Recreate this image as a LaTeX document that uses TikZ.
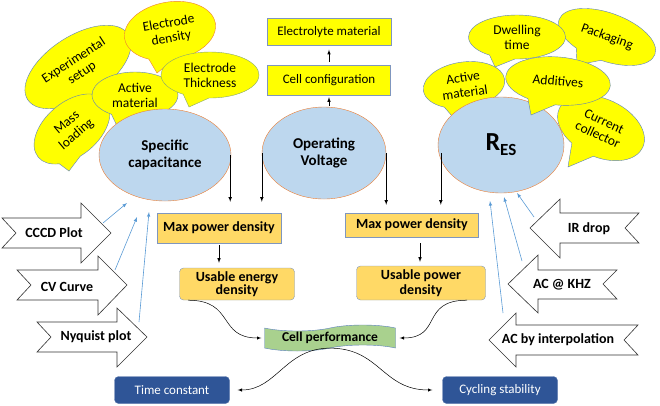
\documentclass[tikz,border=0pt]{standalone}
\usepackage{fontspec}
\setmainfont{Carlito}
\usetikzlibrary{shapes.geometric,shapes.callouts,shapes.symbols}

\definecolor{capfill}{HTML}{BDD7EE}
\definecolor{capline}{HTML}{ED7D31}
\definecolor{bubblefill}{HTML}{FFFF00}
\definecolor{bubbleline}{HTML}{5B7FBF}
\definecolor{boxline}{HTML}{7F96BE}
\definecolor{orangefill}{HTML}{FFD966}
\definecolor{perffill}{HTML}{A9D18E}
\definecolor{darkbox}{HTML}{2F5597}
\definecolor{thinblue}{HTML}{5B9BD5}

\begin{document}
\begin{tikzpicture}[x=1pt, y=-1pt,
    param/.style={ellipse, draw=capline, fill=capfill, inner sep=0pt, align=center, font=\fontsize{15}{17}\selectfont\bfseries},
    bubble/.style={ellipse callout, draw=bubbleline, fill=bubblefill, inner sep=0pt, callout pointer arc=32, align=center, font=\fontsize{13.5}{15}\selectfont},
    topbox/.style={rectangle, draw=boxline, fill=bubblefill, inner sep=0pt, font=\fontsize{13}{15}\selectfont},
    powerbox/.style={rectangle, draw=boxline, fill=orangefill, inner sep=0pt, align=center, font=\fontsize{14}{15}\selectfont\bfseries},
    resultbox/.style={rectangle, rounded corners=4pt, draw=darkbox!80!white, fill=darkbox, text=white, inner sep=0pt, minimum width=115pt, minimum height=27pt, font=\fontsize{13}{15}\selectfont},
    blockarrow/.style={draw=black!80, fill=white, line width=0.6pt},
    blocktext/.style={font=\fontsize{14}{15}\selectfont\bfseries},
    tiparrow/.style={-latex, black, line width=0.6pt},
    probe/.style={-latex, thinblue, line width=0.6pt}]
    \useasboundingbox (0,0) rectangle (660,405);

    % speech bubbles round specific capacitance
    \node[bubble, rotate=33, minimum width=120pt, minimum height=62pt, callout absolute pointer={(72,115)}] (setup) at (78,67) {Experimental\\setup};
    \node[bubble, draw=capline, rotate=10, minimum width=92pt, minimum height=58pt, callout absolute pointer={(157,73)}] (density) at (170,31) {Electrode\\density};
    \node[bubble, rotate=40, minimum width=88pt, minimum height=54pt, callout absolute pointer={(69,171)}] (mass) at (72,129) {Mass\\loading};
    \node[bubble, minimum width=86pt, minimum height=46pt, callout absolute pointer={(117,126)}] (activel) at (135,95) {Active\\material};
    \node[bubble, draw=perffill!80!black, minimum width=98pt, minimum height=46pt, callout absolute pointer={(189,107)}] (thick) at (210,75) {Electrode\\Thickness};

    % speech bubbles round R_ES
    \node[bubble, rotate=-25, minimum width=92pt, minimum height=58pt, callout absolute pointer={(568,167)}] (collect) at (601,128) {Current\\collector};
    \node[bubble, rotate=-20, minimum width=102pt, minimum height=48pt, callout absolute pointer={(577,65)}] (pack) at (607,37) {Packaging};
    \node[bubble, minimum width=97pt, minimum height=44pt, callout absolute pointer={(495,67)}] (dwell) at (517,37) {Dwelling\\time};
    \node[bubble, rotate=8, minimum width=82pt, minimum height=46pt, callout absolute pointer={(452,116)}] (activer) at (464,85) {Active\\material};

    % main parameters
    \node[param, minimum width=132pt, minimum height=92pt] (spcap) at (165,155) {Specific\\capacitance};
    \node[param, minimum width=124pt, minimum height=92pt] (volt) at (324,153) {Operating\\Voltage};
    \node[param, minimum width=126pt, minimum height=96pt, font=\fontsize{26}{28}\selectfont\bfseries] (res) at (501,145) {R\raisebox{-5pt}{\fontsize{17}{18}\selectfont ES}};
    \node[bubble, rotate=-5, minimum width=105pt, minimum height=48pt, callout absolute pointer={(531,115)}] (addit) at (558,81) {Additives};

    \node[topbox, minimum width=124pt, minimum height=27pt] (electrolyte) at (329,32) {Electrolyte material};
    \node[topbox, minimum width=123pt, minimum height=30pt] (cellconf) at (329,80) {Cell configuration};
    \draw[tiparrow, shorten <=1pt, shorten >=2pt] (cellconf.south |- volt.north) -- (cellconf.south);
    \draw[tiparrow, shorten <=3pt, shorten >=4pt] (cellconf.north) -- (electrolyte.south);

    % power and energy
    \node[powerbox, minimum width=124pt, minimum height=30pt] (mpdl) at (219,228) {Max power density};
    \node[powerbox, rounded corners=4pt, minimum width=115pt, minimum height=32pt] (ued) at (237,284) {Usable energy\\[-2pt]density};
    \node[powerbox, minimum width=133pt, minimum height=24pt] (mpdr) at (412,225) {Max power density};
    \node[powerbox, rounded corners=4pt, minimum width=129pt, minimum height=34pt] (upd) at (421,283) {Usable power\\density};

    \draw[tiparrow, shorten >=11pt] ([xshift=-1pt]spcap.east) -- ([xshift=-1pt]spcap.east |- mpdl.north);
    \draw[tiparrow, shorten >=11pt] (volt.west) -- (volt.west |- mpdl.north);
    \draw[tiparrow, shorten >=8pt] (volt.east) -- (volt.east |- mpdr.north);
    \draw[tiparrow, shorten >=8pt] ([shift={(3pt,-8pt)}]res.west) -- ([xshift=3pt]res.west |- mpdr.north);
    \draw[tiparrow, shorten <=2pt, shorten >=5pt] (mpdl.south) -- (mpdl.south |- ued.north);
    \draw[tiparrow, shorten <=6pt, shorten >=4pt] ([xshift=8pt]mpdr.south) -- ([xshift=8pt]mpdr.south |- upd.north);

    % performance and results
    \node[tape, draw=bubbleline, fill=perffill, minimum width=131pt, minimum height=26pt, inner sep=0pt, tape bend height=6pt, font=\fontsize{13.5}{15}\selectfont\bfseries] (perf) at (330,338) {Cell performance};
    \node[resultbox] (tconst) at (172,390) {Time constant};
    \node[resultbox] (cycle) at (500,390) {Cycling stability};

    \draw[tiparrow, line width=0.5pt, shorten >=3pt] ([xshift=-49pt]ued.south) .. controls +(47,0) and +(-47,0) .. (perf.west);
    \draw[tiparrow, line width=0.5pt, shorten >=4pt] ([xshift=46pt]upd.south) .. controls +(-47,0) and +(47,0) .. (perf.east);
    \draw[tiparrow, line width=0.5pt, shorten >=8pt] (perf.south) .. controls +(-45,0) and +(47,0) .. (tconst.east);
    \draw[tiparrow, line width=0.5pt, shorten >=10pt] (perf.south) .. controls +(50,0) and +(-60,0) .. (cycle.west);

    % measurement methods, left
    \draw[blockarrow] (2,218) -- (81,218) -- (81,203) -- (111,233) -- (81,263) -- (81,248) -- (2,248) -- (16,233) -- cycle;
    \draw[blockarrow] (17,270) -- (98,270) -- (98,256) -- (127,285) -- (98,315) -- (98,300) -- (17,300) -- (31,285) -- cycle;
    \draw[blockarrow] (37,322) -- (117,322) -- (117,308) -- (147,337) -- (117,367) -- (117,352) -- (37,352) -- (51,337) -- cycle;
    \node[blocktext] (cccd) at (54,233) {CCCD Plot};
    \node[blocktext] (cv) at (67,287) {CV Curve};
    \node[blocktext] (nyq) at (96,337) {Nyquist plot};

    % measurement methods, right
    \draw[blockarrow] (530,228) -- (560,199) -- (560,213) -- (639,213) -- (625,228) -- (639,243) -- (560,243) -- (560,258) -- cycle;
    \draw[blockarrow] (508,284) -- (538,255) -- (538,270) -- (617,270) -- (603,284) -- (617,299) -- (538,299) -- (538,313) -- cycle;
    \draw[blockarrow] (489,340) -- (516,313) -- (516,325) -- (638,325) -- (624,340) -- (638,355) -- (516,355) -- (516,367) -- cycle;
    \node[blocktext] (ir) at (589,229) {IR drop};
    \node[blocktext] (ackhz) at (562,285) {AC @ KHZ};
    \node[blocktext] (acint) at (558,340) {AC by interpolation};

    % probes into the parameters
    \coordinate (p1) at (127,203);
    \coordinate (p2) at (137,217);
    \coordinate (p3) at (149,212);
    \coordinate (q1) at (517,193);
    \coordinate (q2) at (504,197);
    \coordinate (q3) at (490,201);
    \draw[probe] ([shift={(49,-10)}]cccd.center) -- (p1);
    \draw[probe] ([shift={(48,-17)}]cv.center) -- (p2);
    \draw[probe] ([shift={(43,-15)}]nyq.center) -- (p3);
    \draw[probe] ([shift={(-55,-12)}]ir.center) -- (q1);
    \draw[probe] ([shift={(-40,-24)}]ackhz.center) -- (q2);
    \draw[probe] ([shift={(-55,-27)}]acint.center) -- (q3);
\end{tikzpicture}
\end{document}
